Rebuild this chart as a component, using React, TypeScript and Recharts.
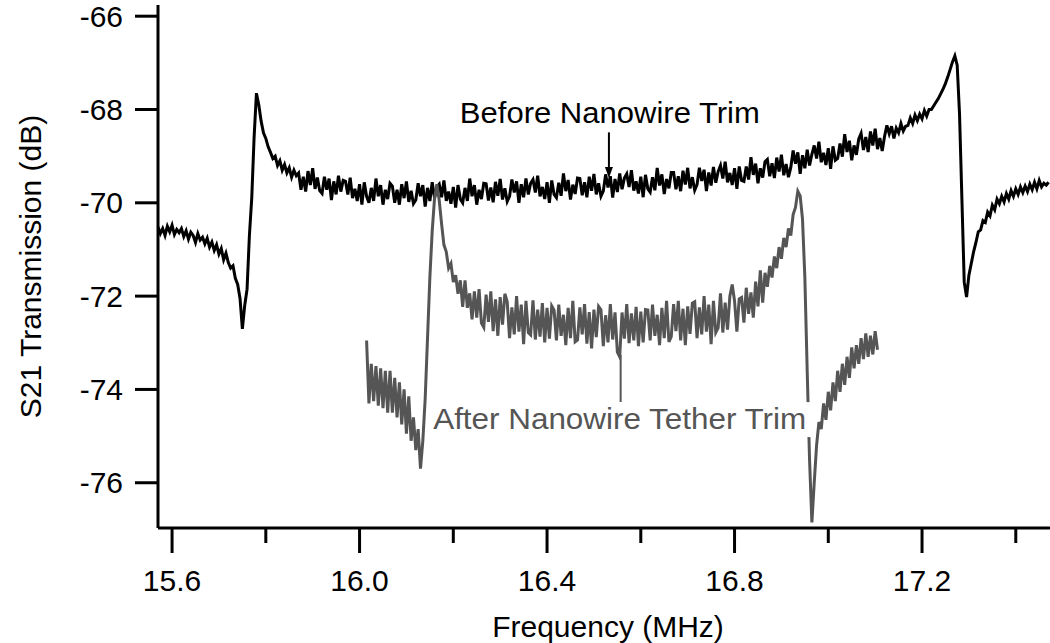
import React from 'react';
import { LineChart, Line, XAxis, YAxis, ReferenceLine, ReferenceDot, Label } from 'recharts';

const FONT = '"Liberation Sans", Arial, Helvetica, sans-serif';

// analyser sweep step, MHz
const sweepStep = 0.005;

// S21 before the trim, first point at 15.570 MHz
const beforeStart = 15.57;
const beforeDb = [
  -70.52, -70.66, -70.55, -70.70, -70.50, -70.62, -70.48, -70.68, -70.57, -70.64,
  -70.55, -70.72, -70.60, -70.78, -70.63, -70.70, -70.85, -70.66, -70.80, -70.74,
  -70.88, -70.76, -70.95, -70.84, -71.02, -70.90, -71.10, -70.98, -71.22, -71.08,
  -71.28, -71.40, -71.35, -71.62, -71.75, -72.05, -72.70, -72.20, -71.85, -70.70,
  -69.90, -68.60, -67.65, -67.90, -68.25, -68.50, -68.62, -68.80, -68.92, -69.05,
  -69.00, -69.20, -69.10, -69.30, -69.18, -69.36, -69.25, -69.45, -69.30, -69.42,
  -69.36, -69.72, -69.44, -69.76, -69.32, -69.62, -69.26, -69.70, -69.46, -69.74,
  -69.80, -69.44, -69.72, -69.48, -69.94, -69.54, -69.82, -69.42, -69.76, -69.52,
  -69.54, -69.82, -69.46, -69.90, -69.70, -69.96, -69.60, -70.04, -69.56, -69.86,
  -70.00, -69.68, -69.96, -69.48, -69.86, -69.62, -70.04, -69.72, -69.92, -69.58,
  -69.64, -70.00, -69.72, -70.04, -69.60, -69.90, -69.54, -69.98, -69.74, -70.02,
  -69.94, -69.58, -69.86, -69.62, -70.08, -69.68, -69.96, -69.56, -69.90, -69.66,
  -69.60, -69.88, -69.52, -69.96, -69.76, -70.02, -69.66, -70.10, -69.62, -69.92,
  -70.00, -69.68, -69.96, -69.48, -69.86, -69.62, -70.04, -69.72, -69.92, -69.58,
  -69.59, -69.95, -69.67, -69.99, -69.55, -69.85, -69.49, -69.93, -69.69, -69.97,
  -69.86, -69.50, -69.78, -69.54, -70.00, -69.60, -69.88, -69.48, -69.82, -69.58,
  -69.50, -69.78, -69.42, -69.86, -69.66, -69.92, -69.56, -70.00, -69.52, -69.82,
  -69.89, -69.57, -69.85, -69.37, -69.75, -69.51, -69.93, -69.61, -69.81, -69.47,
  -69.48, -69.84, -69.56, -69.88, -69.44, -69.74, -69.38, -69.82, -69.58, -69.86,
  -69.75, -69.39, -69.67, -69.43, -69.89, -69.49, -69.77, -69.37, -69.71, -69.47,
  -69.38, -69.66, -69.30, -69.74, -69.54, -69.80, -69.44, -69.88, -69.40, -69.70,
  -69.77, -69.45, -69.73, -69.25, -69.63, -69.39, -69.81, -69.49, -69.69, -69.35,
  -69.35, -69.71, -69.43, -69.75, -69.31, -69.61, -69.25, -69.69, -69.45, -69.73,
  -69.61, -69.25, -69.53, -69.29, -69.75, -69.35, -69.63, -69.23, -69.57, -69.33,
  -69.20, -69.48, -69.12, -69.56, -69.36, -69.62, -69.26, -69.70, -69.22, -69.52,
  -69.54, -69.22, -69.50, -69.02, -69.40, -69.16, -69.58, -69.26, -69.46, -69.12,
  -69.07, -69.43, -69.15, -69.47, -69.03, -69.33, -68.97, -69.41, -69.17, -69.45,
  -69.24, -68.88, -69.16, -68.92, -69.38, -68.98, -69.26, -68.86, -69.20, -68.96,
  -68.77, -69.05, -68.69, -69.13, -68.93, -69.19, -68.83, -69.27, -68.79, -69.09,
  -69.05, -68.73, -69.01, -68.53, -68.91, -68.67, -69.09, -68.77, -68.97, -68.63,
  -68.51, -68.87, -68.59, -68.91, -68.47, -68.77, -68.41, -68.85, -68.61, -68.89,
  -68.58, -68.34, -68.52, -68.36, -68.62, -68.40, -68.50, -68.30, -68.46, -68.36,
  -68.34, -68.18, -68.30, -68.12, -68.24, -68.10, -68.20, -68.02, -68.14, -68.00,
  -68.00, -67.92, -67.84, -67.76, -67.66, -67.56, -67.44, -67.30, -67.14, -66.98,
  -66.85, -67.05, -68.10, -69.90, -71.70, -72.02, -71.55, -71.30, -71.05, -70.85,
  -70.62, -70.58, -70.38, -70.42, -70.20, -70.28, -70.05, -70.15, -69.92, -70.02,
  -69.86, -69.98, -69.80, -69.92, -69.74, -69.86, -69.70, -69.82, -69.66, -69.78,
  -69.64, -69.76, -69.60, -69.72, -69.56, -69.70, -69.52, -69.66, -69.58, -69.62,
  -69.56,
];

// S21 after the tether trim, first point at 16.015 MHz
const afterStart = 16.015;
const afterDb = [
  -72.95, -74.30, -73.45, -74.25, -73.50, -74.35, -73.55, -74.40, -73.60, -74.50,
  -73.60, -74.50, -73.75, -74.60, -73.85, -74.75, -74.00, -74.95, -74.15, -75.10,
  -74.60, -75.30, -74.85, -75.70, -75.10, -74.20, -72.90, -71.60, -70.60, -69.90,
  -69.60, -69.95, -70.45, -70.90, -71.05, -71.40, -71.30, -71.70, -71.55, -71.95,
  -71.66, -72.23, -71.66, -72.25, -71.94, -72.50, -71.90, -72.46, -71.85, -72.58,
  -72.67, -71.97, -72.55, -71.90, -72.75, -72.07, -72.85, -72.02, -72.61, -71.95,
  -72.12, -72.90, -72.24, -72.82, -72.00, -72.76, -72.18, -73.03, -72.10, -72.78,
  -72.83, -72.09, -72.93, -72.29, -72.87, -72.15, -72.99, -72.25, -72.91, -72.21,
  -72.30, -72.95, -72.18, -72.85, -72.40, -73.05, -72.25, -72.90, -72.10, -72.98,
  -72.94, -72.24, -72.82, -72.17, -73.02, -72.34, -73.12, -72.29, -72.88, -72.22,
  -72.29, -73.07, -72.41, -72.99, -72.17, -72.93, -72.35, -73.20, -73.30, -72.35,
  -72.91, -72.17, -73.01, -72.37, -72.95, -72.23, -73.07, -72.33, -72.99, -72.29,
  -72.30, -72.95, -72.18, -72.85, -72.40, -73.05, -72.25, -72.90, -72.10, -72.98,
  -72.87, -72.17, -72.75, -72.10, -72.95, -72.27, -73.05, -72.22, -72.81, -72.15,
  -72.12, -72.90, -72.24, -72.82, -72.00, -72.76, -72.18, -73.03, -72.10, -72.78,
  -72.68, -71.94, -72.78, -72.14, -72.72, -72.00, -71.75, -72.10, -72.76, -72.06,
  -72.03, -72.57, -71.82, -72.38, -71.92, -72.46, -71.69, -72.22, -71.45, -72.14,
  -71.50, -71.80, -71.35, -71.60, -71.15, -71.40, -70.95, -71.20, -70.75, -70.95,
  -70.55, -70.70, -70.25, -70.10, -69.75, -69.85, -70.35, -71.60, -73.60, -75.50,
  -76.85, -76.00, -75.20, -74.70, -74.85, -74.30, -74.65, -74.05, -74.45, -73.85,
  -74.25, -73.60, -74.05, -73.45, -73.90, -73.30, -73.75, -73.10, -73.55, -73.05,
  -73.45, -72.90, -73.35, -72.80, -73.30, -72.85, -73.25, -72.75, -73.15,
];

const majorTicks = [15.6, 16.0, 16.4, 16.8, 17.2];
const minorTicks = [15.8, 16.2, 16.6, 17.0, 17.4];
const dbTicks = [-76, -74, -72, -70, -68, -66];
const freqRange = [15.57, 17.473];
const dbRange = [-76.97, -65.76];

// annotation anchors, in MHz / dB
const beforeNote = { f: 16.534, db: -68.29, text: 'Before Nanowire Trim' };
const beforeArrow = { f: 16.532, from: -68.49, to: -69.47 };
const afterNote = { f: 16.555, db: -74.85, text: 'After Nanowire Tether Trim' };
const afterPointer = { f: 16.557, from: -73.26, to: -74.27 };

const toPoints = (start: number, values: number[]) =>
  values.map((db, i) => ({ f: +(start + i * sweepStep).toFixed(3), db }));

const beforeData = toPoints(beforeStart, beforeDb);
const afterData = toPoints(afterStart, afterDb);
const freqTicks = [...majorTicks, ...minorTicks].sort((a, b) => a - b);

const FreqTick = (props: any) => {
  const { x, y, payload } = props;
  const major = majorTicks.includes(payload.value);
  return (
    <g>
      <line x1={x} x2={x} y1={y} y2={y + (major ? 25 : 15)} stroke="#000" strokeWidth={3} />
      {major && (
        <text x={x} y={y + 63} textAnchor="middle" fontSize={30} fill="#000">
          {payload.value.toFixed(1)}
        </text>
      )}
    </g>
  );
};

const XTitle = (props: any) => {
  const { x, y, width } = props.viewBox;
  return (
    <text x={x + width / 2 + 4} y={y + 109} textAnchor="middle" fontSize={30} fill="#000">
      Frequency (MHz)
    </text>
  );
};

const YTitle = (props: any) => {
  const { x, y, height } = props.viewBox;
  const cx = x + 41;
  const cy = y + height / 2;
  return (
    <text x={cx} y={cy} transform={`rotate(-90 ${cx} ${cy})`} textAnchor="middle" fontSize={30} fill="#000">
      S21 Transmission (dB)
    </text>
  );
};

const ArrowDown = (props: any) => {
  const { x1, y1, x2, y2 } = props;
  return (
    <g>
      <line x1={x1} y1={y1} x2={x2} y2={y2 - 6} stroke="#000" strokeWidth={2} />
      <polygon points={`${x2 - 4},${y2 - 11} ${x2 + 4},${y2 - 11} ${x2},${y2}`} fill="#000" />
    </g>
  );
};

const BeforeText = (props: any) => (
  <text
    x={props.cx}
    y={props.cy}
    textAnchor="middle"
    fontSize={30}
    fill="#000"
    textLength={300}
    lengthAdjust="spacingAndGlyphs"
  >
    {beforeNote.text}
  </text>
);

const AfterText = (props: any) => {
  const { cx, cy } = props;
  const w = 373;
  return (
    <g>
      <rect x={cx - w / 2 - 3} y={cy - 27} width={w + 8} height={35} fill="#fff" />
      <text
        x={cx}
        y={cy}
        textAnchor="middle"
        fontSize={30}
        fill="#555"
        textLength={w}
        lengthAdjust="spacingAndGlyphs"
      >
        {afterNote.text}
      </text>
    </g>
  );
};

export default function App() {
  return (
    <div style={{ position: 'absolute', left: 0, top: 0, fontFamily: FONT, background: '#fff' }}>
      <LineChart width={1050} height={643} margin={{ top: 5, right: 0, bottom: 0, left: 0 }}>
        <XAxis
          type="number"
          dataKey="f"
          domain={freqRange}
          allowDataOverflow
          ticks={freqTicks}
          interval={0}
          height={115}
          tickSize={0}
          tickMargin={0}
          tickLine={false}
          axisLine={{ stroke: '#000', strokeWidth: 3 }}
          tick={<FreqTick />}
          label={<Label content={<XTitle />} />}
        />
        <YAxis
          type="number"
          dataKey="db"
          domain={dbRange}
          allowDataOverflow
          ticks={dbTicks}
          interval={0}
          width={158}
          tickSize={23}
          tickMargin={12}
          axisLine={{ stroke: '#000', strokeWidth: 3 }}
          tickLine={{ stroke: '#000', strokeWidth: 3 }}
          tick={{ fill: '#000', fontSize: 30, fontFamily: FONT }}
          label={<Label content={<YTitle />} />}
        />
        <Line
          data={beforeData}
          dataKey="db"
          type="linear"
          stroke="#000"
          strokeWidth={3}
          dot={false}
          isAnimationActive={false}
        />
        <Line
          data={afterData}
          dataKey="db"
          type="linear"
          stroke="#555"
          strokeWidth={3}
          dot={false}
          isAnimationActive={false}
        />
        <ReferenceLine
          segment={[
            { x: beforeArrow.f, y: beforeArrow.from },
            { x: beforeArrow.f, y: beforeArrow.to },
          ]}
          shape={<ArrowDown />}
        />
        <ReferenceDot x={beforeNote.f} y={beforeNote.db} shape={<BeforeText />} />
        <ReferenceLine
          segment={[
            { x: afterPointer.f, y: afterPointer.from },
            { x: afterPointer.f, y: afterPointer.to },
          ]}
          stroke="#555"
          strokeWidth={2}
        />
        <ReferenceDot x={afterNote.f} y={afterNote.db} shape={<AfterText />} />
      </LineChart>
    </div>
  );
}
